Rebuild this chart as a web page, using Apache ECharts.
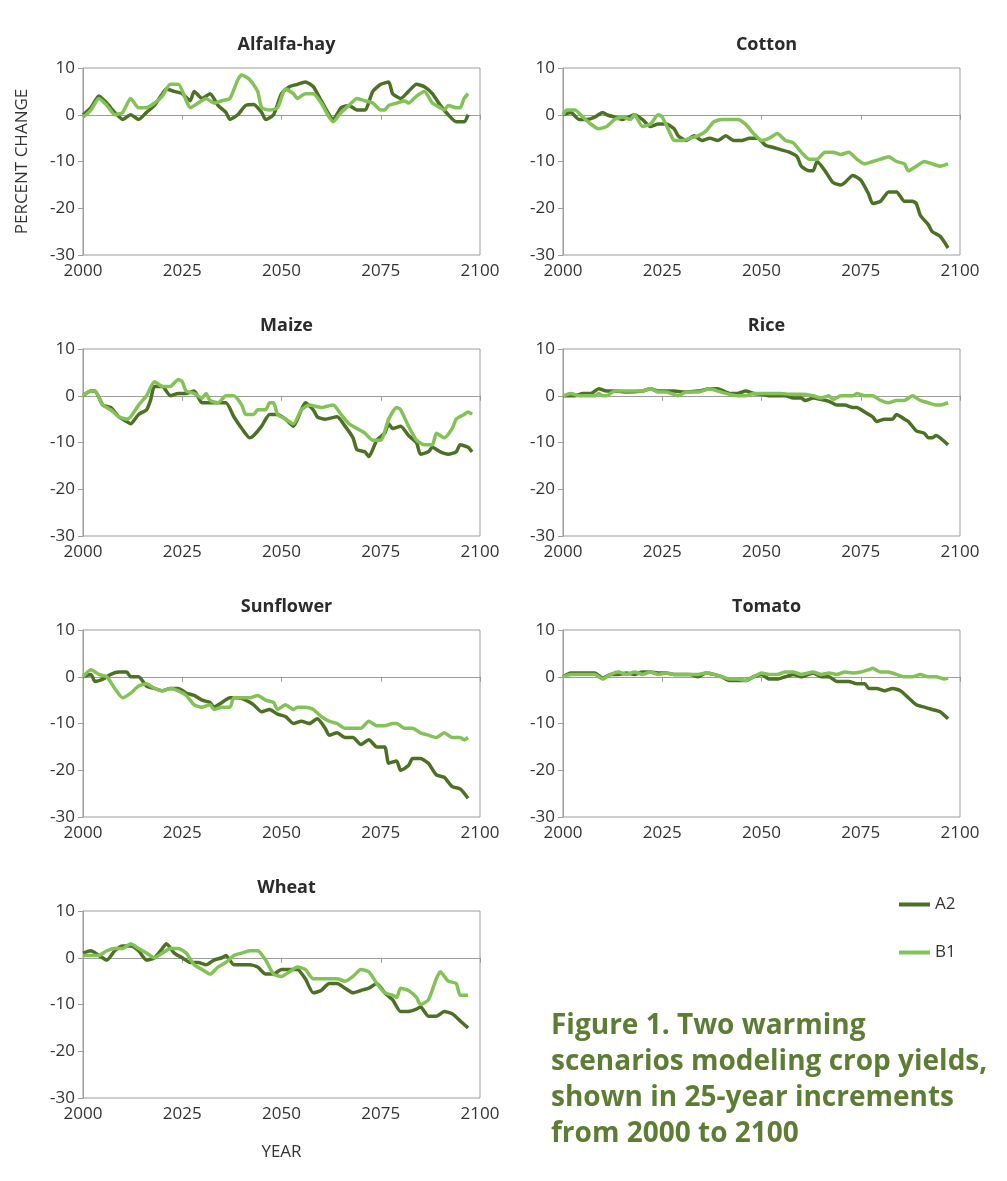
<!DOCTYPE html>
<html>
<head>
<meta charset="utf-8">
<script src="https://cdn.jsdelivr.net/npm/echarts@6/dist/echarts.min.js"></script>
<style>
  html, body { margin: 0; padding: 0; background: #fff; }
  #chart { width: 1007px; height: 1181px; }
</style>
</head>
<body>
<div id="chart"></div>
<script>
// crop names, in panel order
var crops = ['Alfalfa-hay', 'Cotton', 'Maize', 'Rice', 'Sunflower', 'Tomato', 'Wheat'];
var xTicks = [2000, 2025, 2050, 2075, 2100];
var yTicks = [-30, -20, -10, 0, 10];

// [year, percent change]
var alfalfaA2 = [[2000,0],[2002,1.5],[2004,4],[2006,2.5],[2008,0.5],[2010,-1],[2012,0],[2013,-0.5],[2014,-1],[2016,0.5],[2018,2],[2020,4.5],[2021,5.5],[2023,5],[2025,4.5],[2027,3],[2028,5],[2030,3.5],[2032,4.5],[2034,2],[2036,0.5],[2037,-1],[2039,0],[2041,2],[2043,2.2],[2045,0.5],[2046,-1],[2048,0],[2050,4.5],[2052,6],[2054,6.5],[2056,7],[2058,6],[2060,3],[2062,0],[2063,-1],[2065,1.5],[2067,2],[2069,1],[2071,1],[2073,5],[2075,6.5],[2077,7],[2078,4.5],[2080,3.5],[2082,5],[2084,6.5],[2086,6],[2088,4.5],[2090,2],[2092,0],[2094,-1.5],[2096,-1.5],[2097,0]];
var alfalfaB1 = [[2000,-0.5],[2002,1],[2004,3.5],[2006,2],[2008,0],[2010,0.5],[2012,3.5],[2014,1.5],[2016,1.5],[2018,2.5],[2020,4],[2022,6.5],[2024,6.5],[2026,3],[2027,1.5],[2029,2.5],[2031,3.5],[2033,2.5],[2035,3],[2037,3.5],[2039,7.5],[2040,8.5],[2042,7.5],[2044,5],[2045,1.5],[2047,1],[2049,1.5],[2051,5.5],[2053,4.5],[2054,3.5],[2056,4.5],[2058,4.5],[2060,2.5],[2062,-0.5],[2063,-1.5],[2065,0.5],[2067,2],[2069,3.5],[2071,3],[2073,2.5],[2075,1],[2076,1],[2077,2],[2079,2.5],[2081,3],[2082,2.5],[2084,4],[2086,5],[2088,2.5],[2090,1.5],[2091,1],[2092,2],[2094,1.5],[2095,1.5],[2096,3.5],[2097,4.5]];

var cottonA2 = [[2000,0],[2002,0.5],[2004,-1],[2006,-1],[2008,-0.5],[2010,0.5],[2011,0],[2013,-0.5],[2015,-1],[2018,0],[2020,-1],[2022,-2.5],[2024,-2],[2026,-2],[2028,-3],[2029,-4.5],[2031,-5.5],[2033,-4.5],[2035,-5.5],[2037,-5],[2039,-5.5],[2041,-4.5],[2043,-5.5],[2045,-5.5],[2047,-5],[2049,-5],[2051,-6.5],[2053,-7],[2055,-7.5],[2057,-8],[2059,-9],[2060,-11],[2062,-12],[2063,-12],[2064,-10],[2066,-12],[2068,-14.5],[2070,-15],[2071,-14.5],[2073,-13],[2075,-14],[2077,-17],[2078,-19],[2080,-18.5],[2082,-16.5],[2084,-16.5],[2086,-18.5],[2088,-18.5],[2089,-19],[2090,-21.5],[2092,-23.5],[2093,-25],[2095,-26],[2097,-28.5]];
var cottonB1 = [[2000,0],[2001,1],[2003,1],[2005,-0.5],[2007,-2],[2009,-3],[2011,-2.5],[2013,-1],[2015,-0.5],[2017,-1],[2018,0],[2020,-2.5],[2022,-2],[2024,0],[2025,-0.5],[2027,-4],[2028,-5.5],[2030,-5.5],[2032,-5],[2034,-4.5],[2036,-3.5],[2038,-1.5],[2040,-1],[2042,-1],[2044,-1],[2046,-2],[2048,-4],[2050,-5.5],[2052,-5],[2054,-4],[2056,-5.5],[2058,-6],[2060,-8],[2062,-9.5],[2064,-9.5],[2066,-8],[2068,-8],[2070,-8.5],[2072,-8],[2074,-9.5],[2076,-10.5],[2078,-10],[2080,-9.5],[2082,-9],[2084,-10],[2086,-10.5],[2087,-12],[2089,-11],[2091,-10],[2093,-10.5],[2095,-11],[2097,-10.5]];

var maizeA2 = [[2000,0],[2002,1],[2003,1],[2005,-2],[2007,-2.5],[2009,-4.5],[2011,-5.5],[2012,-6],[2014,-4],[2016,-3],[2017,-1],[2018,2],[2020,2],[2022,0],[2024,0.5],[2026,0.5],[2028,1],[2030,-1.5],[2032,-1.5],[2034,-1.5],[2036,-1.5],[2038,-4.5],[2040,-7],[2042,-9],[2043,-8.5],[2045,-6.5],[2047,-4],[2049,-4],[2051,-5],[2053,-6.5],[2055,-3],[2056,-1.5],[2058,-3],[2059,-4.5],[2061,-5],[2064,-4.5],[2066,-6.5],[2068,-9],[2069,-11.5],[2071,-12],[2072,-13],[2074,-9.5],[2076,-8],[2077,-6],[2078,-7],[2080,-6.5],[2082,-8.5],[2084,-10],[2085,-12.5],[2087,-12],[2088,-11],[2090,-12],[2092,-12.5],[2094,-12],[2095,-10.5],[2097,-11],[2098,-12]];
var maizeB1 = [[2000,0],[2002,1],[2003,1],[2005,-2],[2007,-3],[2009,-4.5],[2011,-5],[2012,-4.5],[2014,-2],[2016,0],[2018,3],[2020,2],[2022,2],[2024,3.5],[2025,3],[2026,1],[2028,0.5],[2030,-0.5],[2031,0.5],[2032,-1],[2034,-1.5],[2036,0],[2038,0],[2040,-2],[2041,-4],[2043,-4],[2044,-3],[2046,-3],[2047,-1.5],[2048,-1.5],[2049,-4],[2051,-5],[2053,-6],[2055,-3],[2057,-2],[2060,-2.5],[2063,-2],[2065,-4],[2067,-6],[2069,-7],[2071,-8],[2073,-9.5],[2075,-9.5],[2077,-5],[2079,-2.5],[2080,-3],[2082,-6.5],[2084,-9.5],[2086,-10.5],[2088,-10.5],[2089,-8],[2091,-9],[2093,-7],[2094,-5],[2096,-4],[2097,-3.5],[2098,-4]];

var riceA2 = [[2000,0],[2003,0],[2005,0.5],[2007,0.5],[2009,1.5],[2011,1],[2013,1],[2016,0.8],[2020,1],[2022,1.5],[2024,1],[2026,1],[2028,1],[2030,0.8],[2034,1],[2037,1.5],[2039,1.5],[2042,0.5],[2044,0.5],[2046,1],[2048,0.5],[2050,0.3],[2052,0],[2054,0],[2056,0],[2058,-0.5],[2060,-0.5],[2061,-1],[2063,-0.5],[2065,-0.8],[2067,-1.2],[2069,-2],[2071,-2],[2073,-2.5],[2074,-2.5],[2076,-3.5],[2078,-4.5],[2079,-5.5],[2081,-5],[2083,-5],[2084,-4],[2086,-5],[2087,-5.5],[2089,-7.5],[2091,-8],[2092,-9],[2093,-9],[2094,-8.5],[2095,-9],[2097,-10.5]];
var riceB1 = [[2000,0],[2002,0.5],[2004,0],[2006,0],[2008,0],[2009,0.5],[2010,0],[2011,0],[2013,1],[2016,1],[2020,1],[2022,1.5],[2024,0.8],[2026,0.8],[2029,0],[2031,0.8],[2034,0.8],[2037,1.5],[2039,1],[2041,0.5],[2044,0],[2046,0],[2048,0.5],[2050,0.5],[2052,0.5],[2055,0.5],[2057,0.3],[2060,0.3],[2063,0],[2065,-0.5],[2067,0],[2068,-0.8],[2070,0],[2073,0],[2074,0.5],[2076,0],[2078,0],[2080,-1],[2082,-1.5],[2084,-1],[2086,-1],[2088,0],[2090,-1],[2092,-1.5],[2094,-2],[2095,-2],[2097,-1.5]];

var sunflowerA2 = [[2000,0],[2002,0.5],[2003,-1],[2005,-0.5],[2007,0.5],[2009,1],[2011,1],[2012,0],[2014,0],[2016,-2],[2018,-2.5],[2020,-3],[2022,-2.5],[2024,-2.5],[2026,-3.5],[2028,-4],[2030,-5],[2032,-5.5],[2033,-6.5],[2035,-5.5],[2037,-4.5],[2039,-4.5],[2041,-5],[2043,-6],[2045,-7.5],[2047,-7],[2049,-8],[2051,-8.5],[2053,-10],[2055,-9.5],[2057,-10],[2059,-9],[2061,-11],[2062,-12.5],[2064,-12],[2066,-13],[2068,-13],[2070,-14.5],[2072,-13.5],[2074,-15],[2076,-15],[2077,-18.5],[2079,-18],[2080,-20],[2082,-19],[2083,-17.5],[2085,-17.5],[2087,-18.5],[2089,-21],[2091,-21.5],[2093,-23.5],[2095,-24],[2097,-26]];
var sunflowerB1 = [[2000,0],[2002,1.5],[2004,0.5],[2006,0],[2008,-2.5],[2010,-4.5],[2012,-3.5],[2014,-2],[2016,-1.5],[2018,-2.5],[2020,-3],[2022,-2.5],[2024,-3],[2026,-4],[2028,-6],[2030,-6.5],[2032,-6],[2033,-7],[2035,-6.5],[2037,-6.5],[2038,-4.5],[2040,-4.5],[2042,-4.5],[2044,-4],[2046,-5],[2048,-5.5],[2049,-7],[2051,-6],[2053,-7],[2054,-6.5],[2056,-6.5],[2058,-7],[2060,-8.5],[2062,-9.5],[2064,-10],[2066,-11],[2068,-11],[2070,-11],[2072,-9.5],[2074,-10.5],[2076,-10.5],[2078,-10],[2079,-10],[2081,-11],[2083,-11],[2085,-12],[2087,-12.5],[2089,-13],[2091,-12],[2093,-13],[2095,-13],[2096,-13.5],[2097,-13]];

var tomatoA2 = [[2000,0],[2002,0.8],[2004,0.8],[2006,0.8],[2008,0.8],[2010,-0.3],[2012,0.5],[2014,0.5],[2016,0.8],[2018,0.5],[2020,1],[2022,1],[2024,0.8],[2026,0.8],[2028,0.5],[2030,0.5],[2032,0.5],[2034,0],[2036,0.8],[2038,0.5],[2040,0],[2042,-0.8],[2044,-0.8],[2046,-0.8],[2048,0],[2050,0.5],[2052,-0.5],[2054,-0.5],[2056,0],[2058,0.5],[2060,0],[2063,0.8],[2065,0],[2067,0],[2069,-1],[2072,-1],[2074,-1.5],[2076,-1.5],[2077,-2.5],[2079,-2.5],[2081,-3],[2083,-2.5],[2085,-3],[2087,-4.5],[2089,-6],[2091,-6.5],[2093,-7],[2095,-7.5],[2097,-9]];
var tomatoB1 = [[2000,0],[2002,0.5],[2004,0.5],[2006,0.5],[2008,0.5],[2010,-0.5],[2012,0.5],[2014,1],[2016,0.5],[2018,1],[2020,0.5],[2022,1],[2024,0.5],[2026,0.8],[2028,0.5],[2030,0.5],[2032,0.5],[2034,0.5],[2036,0.8],[2038,0.5],[2040,0],[2042,-0.5],[2044,-0.5],[2046,-0.8],[2048,0],[2050,0.8],[2052,0.5],[2054,0.5],[2056,1],[2058,1],[2060,0.5],[2063,1],[2065,0.5],[2067,0.8],[2069,0.5],[2071,1],[2073,0.8],[2075,1],[2077,1.5],[2078,1.8],[2080,1],[2082,1],[2084,0.5],[2086,0],[2088,0],[2090,0.5],[2092,0],[2094,0],[2096,-0.5],[2097,-0.3]];

var wheatA2 = [[2000,1],[2002,1.5],[2004,0.5],[2006,-0.5],[2008,1.5],[2010,2.5],[2012,2.5],[2014,1.5],[2016,-0.5],[2018,0],[2020,2],[2021,3],[2023,1],[2025,0],[2027,-1],[2029,-1],[2031,-1.5],[2033,-0.5],[2035,0],[2036,0.5],[2038,-1.5],[2040,-1.5],[2042,-1.5],[2044,-2],[2046,-3.5],[2048,-3.5],[2050,-2.5],[2052,-2.5],[2054,-2.5],[2056,-4.5],[2058,-7.5],[2060,-7],[2062,-5.5],[2064,-5.5],[2066,-6.5],[2068,-7.5],[2070,-7],[2072,-6.5],[2074,-5.5],[2076,-7.5],[2078,-9],[2080,-11.5],[2082,-11.5],[2084,-11],[2085,-10.5],[2087,-12.5],[2089,-12.5],[2091,-11.5],[2093,-12],[2095,-13.5],[2097,-15]];
var wheatB1 = [[2000,0.5],[2002,0.5],[2004,0.5],[2006,1.5],[2008,2],[2010,2],[2012,3],[2014,2],[2016,1],[2018,0],[2020,1],[2022,2],[2024,2],[2026,1],[2028,-1.5],[2030,-2.5],[2032,-3.5],[2034,-2],[2036,-1],[2038,0.5],[2040,1],[2042,1.5],[2044,1.5],[2046,-0.5],[2048,-3.5],[2050,-4],[2052,-3],[2054,-2],[2056,-2.5],[2058,-4.5],[2060,-4.5],[2062,-4.5],[2064,-4.5],[2066,-5],[2068,-4],[2070,-2.5],[2072,-3],[2074,-5.5],[2076,-7.5],[2078,-8],[2079,-8.5],[2080,-6.5],[2082,-7],[2084,-8.5],[2085,-10],[2087,-9],[2089,-4.5],[2090,-3],[2092,-5],[2094,-5.5],[2095,-8],[2097,-8]];

var a2Series = [alfalfaA2, cottonA2, maizeA2, riceA2, sunflowerA2, tomatoA2, wheatA2];
var b1Series = [alfalfaB1, cottonB1, maizeB1, riceB1, sunflowerB1, tomatoB1, wheatB1];

var A2_COLOR = '#4d7124';
var B1_COLOR = '#82c256';
var FONT = 'Open Sans';

window.addEventListener('load', function () {
  var myChart = echarts.init(document.getElementById('chart'));

  var colLeft = [83, 563];
  var rowTop = [68, 349, 630, 911];
  var plotW = 397, plotH = 187;

  var grids = [], xAxes = [], yAxes = [], titles = [], series = [];
  var i;
  for (i = 0; i < crops.length; i++) {
    var col = i % 2, row = Math.floor(i / 2);
    grids.push({
      left: colLeft[col], top: rowTop[row], width: plotW, height: plotH,
      show: true, borderColor: '#9c9c9c', borderWidth: 1, backgroundColor: 'transparent'
    });
    titles.push({
      text: crops[i],
      left: colLeft[col] + plotW / 2, top: rowTop[row] - 37,
      textAlign: 'center',
      textStyle: { fontFamily: FONT, fontWeight: 'bold', fontSize: 18, color: '#2b2b2b' }
    });
    xAxes.push({
      gridIndex: i, type: 'value', min: xTicks[0], max: xTicks[xTicks.length - 1], interval: 25,
      axisLine: { lineStyle: { color: '#9c9c9c' } },
      axisTick: { show: true, length: 5, lineStyle: { color: '#9c9c9c' } },
      axisLabel: { fontFamily: FONT, fontSize: 17, color: '#333', margin: 8,
        formatter: function (v) { return String(v); } },
      splitLine: { show: false },
      name: i === 6 ? 'YEAR' : '', nameLocation: 'middle', nameGap: 46,
      nameTextStyle: { fontFamily: FONT, fontSize: 17, color: '#333' }
    });
    yAxes.push({
      gridIndex: i, type: 'value', min: yTicks[0], max: yTicks[yTicks.length - 1], interval: 10,
      axisLine: { show: true, lineStyle: { color: '#9c9c9c' } },
      axisTick: { show: true, length: 5, lineStyle: { color: '#9c9c9c' } },
      axisLabel: { fontFamily: FONT, fontSize: 17, color: '#333', margin: 8 },
      splitLine: { show: false },
      name: i === 0 ? 'PERCENT CHANGE' : '', nameLocation: 'middle', nameGap: 52, nameRotate: 90,
      nameTextStyle: { fontFamily: FONT, fontSize: 17, color: '#333' }
    });
    series.push({
      name: 'A2', type: 'line', xAxisIndex: i, yAxisIndex: i, data: a2Series[i],
      showSymbol: false, smooth: 0.2, lineStyle: { width: 3.5, color: A2_COLOR }, itemStyle: { color: A2_COLOR }
    });
    series.push({
      name: 'B1', type: 'line', xAxisIndex: i, yAxisIndex: i, data: b1Series[i],
      showSymbol: false, smooth: 0.2, lineStyle: { width: 3.5, color: B1_COLOR }, itemStyle: { color: B1_COLOR }
    });
  }

  var option = {
    backgroundColor: '#fff',
    animation: false,
    title: titles,
    grid: grids,
    xAxis: xAxes,
    yAxis: yAxes,
    legend: {
      data: ['A2', 'B1'],
      orient: 'vertical', left: 894, top: 891, itemGap: 31,
      icon: 'rect', itemWidth: 31, itemHeight: 4,
      textStyle: { fontFamily: FONT, fontSize: 17, color: '#333' }
    },
    graphic: [{
      type: 'text', left: 551, top: 1008,
      style: {
        text: 'Figure 1. Two warming\nscenarios modeling crop yields,\nshown in 25-year increments\nfrom 2000 to 2100',
        font: 'bold 28px "Open Sans"', lineHeight: 36, fill: '#5e7d34'
      }
    }],
    series: series
  };

  myChart.setOption(option);
});
</script>
</body>
</html>
